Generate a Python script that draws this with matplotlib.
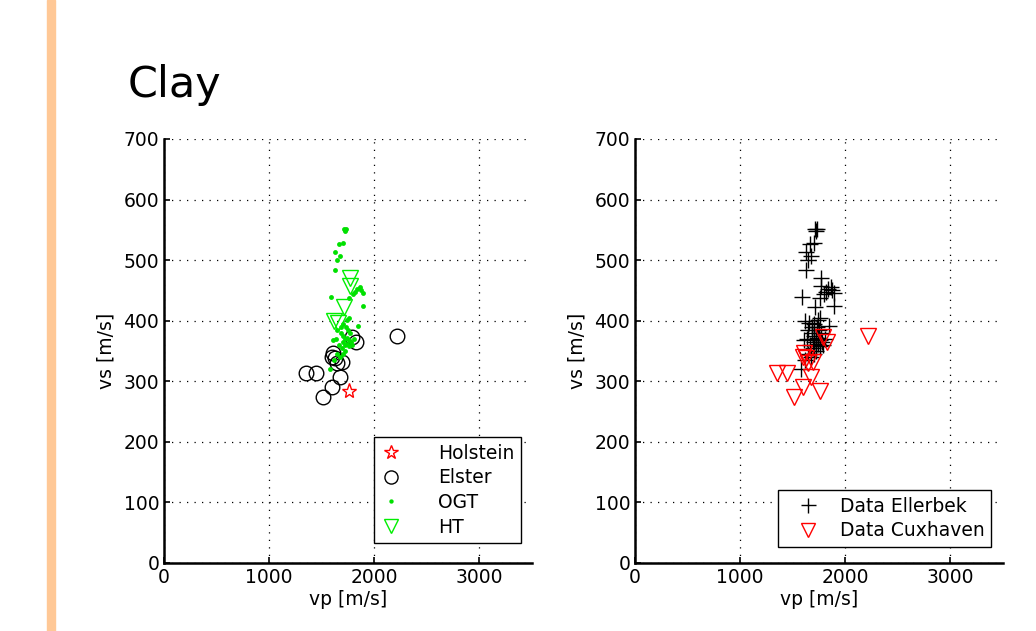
import matplotlib
matplotlib.use("Agg")
import matplotlib.pyplot as plt
from matplotlib.patches import Rectangle

plt.rcParams['font.family'] = ['DejaVu Sans']

# ---- data ----
holstein_vp = [1755]
holstein_vs = [284]

elster_vp = [1788, 1829, 2216, 1611, 1629, 1692, 1352, 1448, 1676, 1597, 1511, 1650, 1600]
elster_vs = [373, 365, 375, 346, 338, 332, 314, 314, 307, 290, 274, 330, 340]

ogt_vp = [1708, 1727, 1720, 1698, 1667, 1629, 1670, 1644, 1629,
          1835, 1860, 1875, 1890, 1815, 1800, 1587, 1762, 1889, 1762, 1841,
          1680, 1700, 1720, 1740, 1760, 1780, 1700, 1720, 1740, 1760, 1790,
          1810, 1680, 1700, 1750, 1770, 1730, 1650, 1720, 1690, 1660, 1640,
          1603, 1613, 1581, 1650, 1700, 1670, 1740]
ogt_vs = [551, 551, 548, 529, 526, 513, 507, 500, 483,
          452, 455, 450, 445, 448, 444, 439, 438, 424, 405, 391,
          380, 375, 370, 372, 368, 365, 365, 360, 362, 358, 360,
          370, 390, 395, 385, 380, 390, 385, 350, 355, 360, 370,
          368, 335, 320, 345, 345, 340, 401]

ht_vp = [1771, 1765, 1708, 1651, 1620]
ht_vs = [470, 457, 422, 396, 400]

ellerbek_vp = ogt_vp + ht_vp
ellerbek_vs = ogt_vs + ht_vs
cuxhaven_vp = elster_vp + holstein_vp
cuxhaven_vs = elster_vs + holstein_vs

x_ticks = [0, 1000, 2000, 3000]
y_ticks = [0, 100, 200, 300, 400, 500, 600, 700]

FS = 13.5
fig = plt.figure(figsize=(10.36, 6.31), dpi=100)

# orange bar at left
fig.patches.append(Rectangle((47/1036, 0), 8/1036, 1, transform=fig.transFigure,
                             color='#FFC896', zorder=0))
fig.text(128/1036, 1 - 97/631, 'Clay', fontsize=31, ha='left', va='baseline')


def style(ax):
    ax.set_xlim(0, 3500)
    ax.set_ylim(0, 700)
    ax.set_xticks(x_ticks)
    ax.set_yticks(y_ticks)
    ax.tick_params(direction='in', labelsize=FS, length=4, width=1.2, top=False, right=False)
    for s in ['top', 'right']:
        ax.spines[s].set_visible(False)
    for s in ['left', 'bottom']:
        ax.spines[s].set_linewidth(1.8)
    ax.grid(True, color='black', linestyle=(0, (1, 5)), linewidth=0.9)
    ax.set_axisbelow(True)
    ax.set_xlabel('vp [m/s]', fontsize=FS, labelpad=2)
    ax.set_ylabel('vs [m/s]', fontsize=FS, labelpad=6)


ax1 = fig.add_axes([164/1036, 1 - 563/631, 368/1036, 424/631])
style(ax1)
ax1.plot(holstein_vp, holstein_vs, linestyle='none', marker='*', ms=11, mfc='none',
         mec='red', mew=1, label='Holstein')
ax1.plot(elster_vp, elster_vs, linestyle='none', marker='o', ms=10.5, mfc='none',
         mec='black', mew=1, label='Elster')
ax1.plot(ogt_vp, ogt_vs, linestyle='none', marker='o', ms=3.5, mfc='#00E000',
         mec='#00E000', mew=0, label='OGT')
ax1.plot(ht_vp, ht_vs, linestyle='none', marker='v', ms=11.5, mfc='none',
         mec='#00EE00', mew=1, label='HT')
leg1 = ax1.legend(loc='lower right', bbox_to_anchor=(0.97, 0.047), borderaxespad=0,
                  fontsize=FS, fancybox=False, edgecolor='black', framealpha=1,
                  handletextpad=1.95, borderpad=0.35, labelspacing=0.3, handlelength=1.1,
                  markerscale=0.9)
leg1.get_frame().set_linewidth(1.0)

ax2 = fig.add_axes([635/1036, 1 - 563/631, 368/1036, 424/631])
style(ax2)
ax2.plot(ellerbek_vp, ellerbek_vs, linestyle='none', marker='+', ms=12, mec='black',
         mew=1, label='Data Ellerbek')
ax2.plot(cuxhaven_vp, cuxhaven_vs, linestyle='none', marker='v', ms=11.5, mfc='none',
         mec='red', mew=1, label='Data Cuxhaven')
leg2 = ax2.legend(loc='lower right', bbox_to_anchor=(0.967, 0.038), borderaxespad=0,
                  fontsize=FS, fancybox=False, edgecolor='black', framealpha=1,
                  handletextpad=0.45, borderpad=0.35, labelspacing=0.3, handlelength=2.5,
                  markerscale=0.9)
leg2.get_frame().set_linewidth(1.0)

fig.savefig('out.png', dpi=100)
